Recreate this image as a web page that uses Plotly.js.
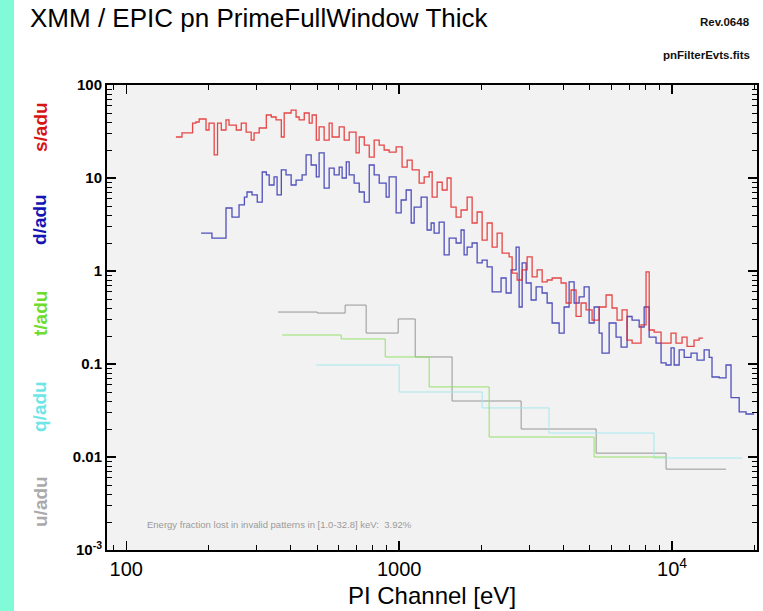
<!DOCTYPE html>
<html>
<head>
<meta charset="utf-8">
<script src="https://cdn.plot.ly/plotly-3.0.1.min.js"></script>
<style>
  html, body { margin: 0; padding: 0; background: #ffffff; }
  #chart { width: 763px; height: 611px; }
</style>
</head>
<body>
<div id="chart"></div>
<script>
// ---- data (bin edges in eV, counts per adu) ----
const sEdges = [152,160,175,180,185,196,201,210,216,223,232,238,253,264,275,287,294,307,326,340,354,370,379,402,419,430,449,468,480,497,509,531,554,568,603,629,656,695,714,745,777,810,845,881,919,975,1025,1070,1116,1184,1235,1288,1321,1378,1438,1499,1549,1617,1686,1775,1851,1931,2014,2101,2192,2286,2384,2529,2594,2706,2823,2944,3071,3203,3342,3486,3636,3921,4090,4266,4450,4642,4842,5093,5406,5731,6028,6288,6560,6843,7138,7698,8032,8245,8600,9116,9916,10340,10880,11350,12040,12570,12990];
const sVals = [27.6,30.5,39.0,40.0,43.1,32.8,39.0,17.7,39.0,32.8,42.1,37.1,32.8,39.0,31.2,25.6,30.5,34.5,47.6,45.3,42.1,27.6,50.0,53.8,45.3,42.1,50.0,39.0,47.6,25.6,35.4,25.6,39.0,27.6,35.4,25.6,31.2,18.6,27.6,22.6,16.8,25.6,22.6,20.0,19.0,21.6,13.1,15.6,12.2,8.83,10.3,11.6,6.24,9.0,7.43,10.0,4.87,3.80,4.53,6.24,3.28,4.31,2.15,3.28,1.81,2.56,1.56,1.42,0.951,0.80,1.03,1.42,0.865,1.03,0.764,0.80,0.841,0.743,0.453,0.625,0.325,0.453,0.381,0.297,0.41,0.552,0.40,0.297,0.381,0.181,0.168,0.263,0.98,0.232,0.22,0.168,0.215,0.168,0.195,0.155,0.181,0.19];

const dEdges = [188,206,232,244,259,271,277,289,302,315,326,334,348,357,370,385,402,419,441,456,476,497,509,531,554,578,603,618,640,656,684,714,745,777,810,845,896,919,975,1017,1061,1107,1135,1204,1266,1310,1343,1401,1462,1525,1617,1686,1730,1775,1851,1931,2014,2101,2192,2363,2466,2572,2683,2752,2823,2920,3045,3176,3342,3486,3636,3857,4023,4196,4377,4566,4763,4968,5182,5406,5540,5882,6236,6506,6843,7138,7577,7904,8245,8737,9116,9506,9916,10180,10620,11080,11740,12350,13110,13680,14010,14880,15770,16450,17620,18670,20000];
const dVals = [2.56,2.26,4.76,3.80,5.13,6.24,7.07,6.57,5.51,11.6,10.8,8.41,10.3,6.57,12.2,10.8,8.41,9.5,10.8,17.7,13.8,10.3,18.6,7.80,12.8,10.8,13.1,10.0,14.9,10.8,8.83,7.07,5.51,13.8,10.8,8.83,6.24,10.3,4.21,5.80,7.43,3.28,4.87,6.24,2.76,3.28,2.56,3.36,1.49,2.26,2.00,2.76,1.49,1.81,2.00,1.22,1.31,1.11,0.597,0.841,0.58,1.03,1.81,0.41,1.22,0.743,0.488,0.674,0.58,0.453,0.276,0.215,0.41,0.764,0.453,0.526,0.674,0.276,0.41,0.215,0.131,0.276,0.195,0.152,0.324,0.297,0.25,0.41,0.195,0.168,0.103,0.0975,0.149,0.0975,0.142,0.118,0.131,0.110,0.142,0.118,0.0725,0.0708,0.0975,0.0434,0.0306,0.0290];

const tEdges = [373,613,889,1288,2137,5180,9510];
const tVals = [0.205,0.186,0.119,0.0567,0.0164,0.0100];

const qEdges = [497,1000,2014,3542,8590,18040];
const qVals = [0.0975,0.050,0.0337,0.0181,0.00976];

const uEdges = [360,501,634,757,992,1145,1563,2799,5270,9510,15770];
const uVals = [0.362,0.353,0.43,0.215,0.305,0.119,0.040,0.020,0.011,0.0074];

const xTickVals = [100,1000,10000];
const xTickText = ['100','1000','10<sup>4</sup>'];
const yTickVals = [0.001,0.01,0.1,1,10,100];
const yTickText = ['10<sup>-3</sup>','0.01','0.1','1','10','100'];

const seriesLabels = ['s/adu','d/adu','t/adu','q/adu','u/adu'];
const labelColors = ['rgb(215,20,20)','rgb(20,20,180)','rgb(110,220,45)','rgb(110,230,232)','rgb(170,170,170)'];

// ---- helpers ----
function step(edges, vals, color, width, name) {
  return {
    type: 'scatter', mode: 'lines', name: name,
    x: edges.slice(),
    y: vals.concat([vals[vals.length - 1]]),
    line: {shape: 'hv', color: color, width: width},
    hoverinfo: 'x+y'
  };
}
function minorLog(lo, hi) {
  const out = [];
  for (let d = lo; d < hi; d *= 10) {
    for (let m = 2; m <= 9; m++) out.push(d * m);
  }
  return out;
}
const xMinor = [90].concat(minorLog(100, 10000)).concat([20000]);
const yMinor = minorLog(0.001, 100);

const traces = [
  step(uEdges, uVals, 'rgb(150,150,150)', 1, 'u'),
  step(qEdges, qVals, 'rgb(165,232,238)', 1, 'q'),
  step(tEdges, tVals, 'rgb(150,225,105)', 1, 't'),
  step(dEdges, dVals, 'rgba(50,50,180,0.85)', 1.3, 'd'),
  step(sEdges, sVals, 'rgba(228,40,40,0.85)', 1.3, 's')
];

const font = 'Liberation Sans, Arial, sans-serif';
const plotL = 107, plotT = 85, plotW = 650, plotH = 465;
const labelY = [127, 220, 314, 407, 502];

const annotations = seriesLabels.map((t, i) => ({
  text: t, xref: 'paper', yref: 'paper',
  x: (40 - plotL) / plotW, y: (plotT + plotH - labelY[i]) / plotH,
  xanchor: 'center', yanchor: 'middle', textangle: -90, showarrow: false,
  font: {family: font, size: 19, color: labelColors[i], weight: 'bold'}
}));
annotations.push({
  text: 'Rev.0648', xref: 'paper', yref: 'paper',
  x: (752 - plotL) / plotW, y: (plotT + plotH - 22) / plotH,
  xanchor: 'right', yanchor: 'middle', showarrow: false,
  font: {family: font, size: 11.5, color: '#111', weight: 'bold'}
});
annotations.push({
  text: 'pnFilterEvts.fits', xref: 'paper', yref: 'paper',
  x: (752 - plotL) / plotW, y: (plotT + plotH - 55) / plotH,
  xanchor: 'right', yanchor: 'middle', showarrow: false,
  font: {family: font, size: 11.5, color: '#111', weight: 'bold'}
});
annotations.push({
  text: 'Energy fraction lost in invalid patterns in [1.0-32.8] keV:  3.92%', xref: 'paper', yref: 'paper',
  x: (145 - plotL) / plotW, y: (plotT + plotH - 524) / plotH,
  xanchor: 'left', yanchor: 'middle', showarrow: false,
  font: {family: font, size: 9.5, color: '#9a9a9a'}
});

const layout = {
  width: 763, height: 611,
  margin: {l: plotL, r: 763 - plotL - plotW, t: plotT, b: 611 - plotT - plotH, pad: 0},
  paper_bgcolor: '#ffffff',
  plot_bgcolor: '#f2f2f2',
  showlegend: false,
  font: {family: font, color: '#000'},
  title: {
    text: 'XMM / EPIC pn PrimeFullWindow Thick',
    xref: 'container', yref: 'container',
    x: 30 / 763, xanchor: 'left', y: 1 - 18 / 611, yanchor: 'middle',
    font: {family: font, size: 26, color: '#000'}
  },
  xaxis: {
    type: 'log', range: [Math.log10(85), Math.log10(20480)],
    tickvals: xTickVals, ticktext: xTickText,
    ticks: 'inside', ticklen: 9, tickwidth: 1.5, tickcolor: '#000',
    minor: {tickvals: xMinor, ticks: 'inside', ticklen: 5, tickwidth: 1, tickcolor: '#000', showgrid: false},
    showline: true, linecolor: '#000', linewidth: 2, mirror: 'allticks',
    showgrid: false, zeroline: false,
    tickfont: {family: font, size: 20, color: '#000'},
    title: {text: 'PI Channel [eV]', font: {family: font, size: 24, color: '#000'}, standoff: 8}
  },
  yaxis: {
    type: 'log', range: [-3, 2],
    tickvals: yTickVals, ticktext: yTickText,
    ticks: 'inside', ticklen: 9, tickwidth: 1.5, tickcolor: '#000',
    minor: {tickvals: yMinor, ticks: 'inside', ticklen: 5, tickwidth: 1, tickcolor: '#000', showgrid: false},
    showline: true, linecolor: '#000', linewidth: 2, mirror: 'allticks',
    showgrid: false, zeroline: false,
    tickfont: {family: font, size: 15, color: '#000', weight: 'bold'}
  },
  shapes: [{
    type: 'rect', xref: 'paper', yref: 'paper', layer: 'below',
    x0: (0 - plotL) / plotW, x1: (14 - plotL) / plotW,
    y0: (plotT + plotH - 611) / plotH, y1: (plotT + plotH) / plotH,
    fillcolor: 'rgb(128,250,215)', line: {width: 0}
  }],
  annotations: annotations
};

Plotly.newPlot('chart', traces, layout, {displayModeBar: false, staticPlot: true});
</script>
</body>
</html>
